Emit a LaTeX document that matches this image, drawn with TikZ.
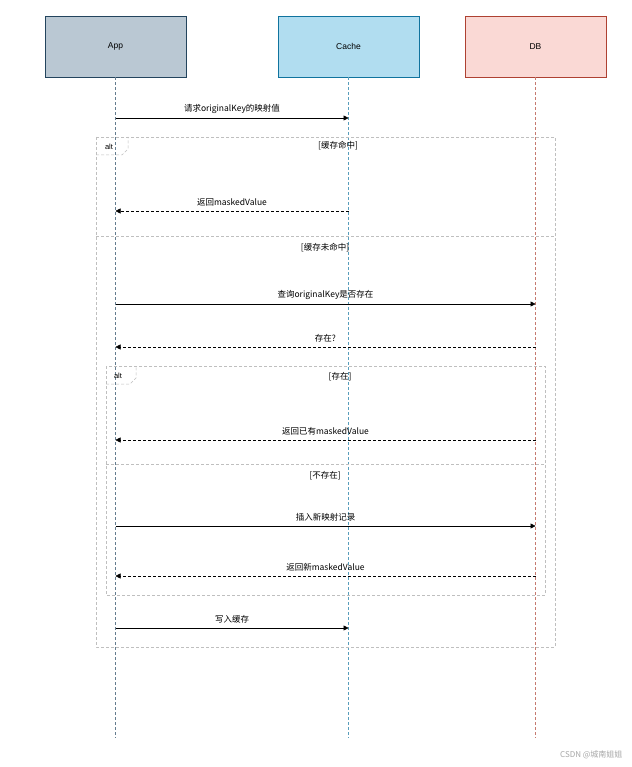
\documentclass[tikz,border=0pt]{standalone}
\usepackage{fontspec}
\setmainfont{Liberation Sans}
\newfontfamily\cjk{Noto Sans CJK SC}
\usetikzlibrary{arrows.meta}
\definecolor{appf}{HTML}{BAC8D3}\definecolor{appd}{HTML}{23445D}
\definecolor{caf}{HTML}{B1DDF0}\definecolor{cad}{HTML}{10739E}
\definecolor{dbf}{HTML}{FAD9D5}\definecolor{dbd}{HTML}{AE4132}
\begin{document}
\begin{tikzpicture}[x=1pt,y=-1pt,
 hdr/.style={draw,minimum width=141pt,minimum height=61pt,font=\fontsize{8.5}{10}\selectfont,line width=0.8pt},
 life/.style={densely dashed,line width=0.5pt},
 msg/.style={-{Triangle[length=5pt,width=5pt]},line width=0.5pt},
 ret/.style={msg,densely dashed},
 lbl/.style={font=\cjk\fontsize{8.5}{10}\selectfont,above=1pt},
 frm/.style={draw=gray!50,densely dashed,line width=0.5pt},
 grd/.style={font=\cjk\fontsize{8.5}{10}\selectfont,anchor=center}]
\useasboundingbox[fill=white] (0,0) rectangle (631,767);
\node[hdr,fill=appf,draw=appd] (app) at (115.5,46.5) {App};
\node[hdr,fill=caf,draw=cad] (cache) at (348.5,46.5) {Cache};
\node[hdr,fill=dbf,draw=dbd] (db) at (535.5,46.5) {DB};
\coordinate (appE) at (115.5,738); \coordinate (caE) at (348.5,738); \coordinate (dbE) at (535.5,738);
\draw[life,draw=appd!70] (app.south) -- (appE);
\draw[life,draw=cad!70] (cache.south) -- (caE);
\draw[life,draw=dbd!70] (db.south) -- (dbE);
% frames
\draw[frm] (96,137) rectangle (555,647);
\draw[frm] (96,236) -- (555,236);
\draw[frm] (96,155) -- (122,155) -- (128,149) -- (128,137);
\node[font=\fontsize{7.5}{9}\selectfont] (alt1) at (109,147) {alt};
\draw[frm] (106,366) rectangle (545,595);
\draw[frm] (106,464) -- (545,464);
\draw[frm] (106,384) -- (130,384) -- (136,378) -- (136,366);
\node[font=\fontsize{7.5}{9}\selectfont] (alt2) at (118,376) {alt};
\node[grd] (g1) at (338,146) {[缓存命中]};
\node[grd] (g2) at (325,248) {[缓存未命中]};
\node[grd] (g3) at (340,377) {[存在]};
\node[grd] (g4) at (325,476) {[不存在]};
% messages
\foreach \y/\a/\b/\s/\t in {
 118/app/cache/msg/请求originalKey的映射值,
 211/cache/app/ret/返回maskedValue,
 304/app/db/msg/查询originalKey是否存在,
 347/db/app/ret/存在?,
 440/db/app/ret/返回已有maskedValue,
 526/app/db/msg/插入新映射记录,
 576/db/app/ret/返回新maskedValue,
 628/app/cache/msg/写入缓存}{
 \coordinate (s\y) at (\a |- 0,\y); \coordinate (e\y) at (\b |- 0,\y);
 \draw[\s] (s\y) -- node[lbl] {\t} (e\y);
}
\node[font=\cjk\fontsize{8}{10}\selectfont,text=gray!70,anchor=east] (wm) at (626,755) {CSDN @城南姐姐};
\end{tikzpicture}
\end{document}
